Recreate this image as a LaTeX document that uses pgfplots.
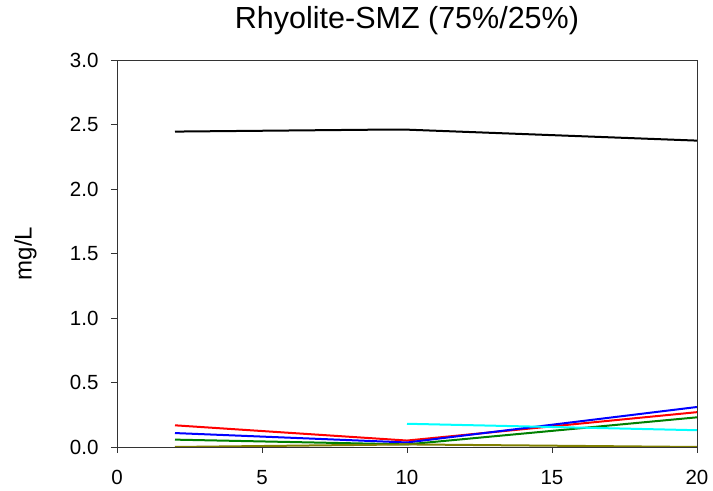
\documentclass[border=0pt]{standalone}
\usepackage{pgfplots}
\pgfplotsset{compat=1.18}
\usepackage{fontspec}
\setmainfont{Liberation Sans}
\definecolor{olivegreen}{RGB}{128,128,0}
\definecolor{dkgreen}{RGB}{0,128,0}
\definecolor{aqua}{RGB}{0,255,255}
\begin{document}
\begin{tikzpicture}
\begin{axis}[
    width=580pt, height=387pt, scale only axis,
    xmin=0, xmax=20, ymin=0, ymax=3,
    xtick={0,5,...,20}, ytick={0,0.5,...,3},
    yticklabel style={/pgf/number format/fixed, /pgf/number format/fixed zerofill,
        /pgf/number format/precision=1, xshift=-9pt},
    /pgf/number format/assume math mode=true,
    tick align=outside, tick pos=left,
    major tick length=6pt,
    major tick style={black!80, line width=0.7pt},
    ticklabel style={font=\fontsize{20.5}{22}\selectfont},
    xticklabel style={yshift=-14pt},
    ylabel={mg/L},
    every axis y label/.style={at={(axis description cs:-0.158,0.5)}, rotate=90,
        anchor=center, font=\fontsize{24}{26}\selectfont},
    title={Rhyolite-SMZ (75\%/25\%)},
    title style={at={(axis description cs:0.5,1)}, anchor=base, yshift=25pt,
        font=\fontsize{30.5}{33}\selectfont},
    axis line style={black!80, line width=0.7pt},
    every axis plot/.append style={line width=2pt, no markers},
    after end axis/.code={
        \draw[black!80, line width=0.7pt] (rel axis cs:0,1) -- (rel axis cs:1,1) -- (rel axis cs:1,0);
        \path (rel axis cs:0,0) ++(-117pt,-44pt) (rel axis cs:1,1) ++(16pt,60pt);
    },
]
\addplot[black] coordinates {(2,2.445) (9,2.46) (10,2.46) (20,2.375)};
\addplot[red] coordinates {(2,0.168) (10,0.05) (20,0.27)};
\addplot[blue] coordinates {(2,0.108) (10,0.035) (20,0.31)};
\addplot[dkgreen] coordinates {(2,0.057) (10,0.02) (20,0.23)};
\addplot[aqua] coordinates {(10,0.18) (20,0.13)};
\addplot[olivegreen] coordinates {(2,0.0) (10,0.02) (20,0.0)};
\end{axis}
\end{tikzpicture}
\end{document}
